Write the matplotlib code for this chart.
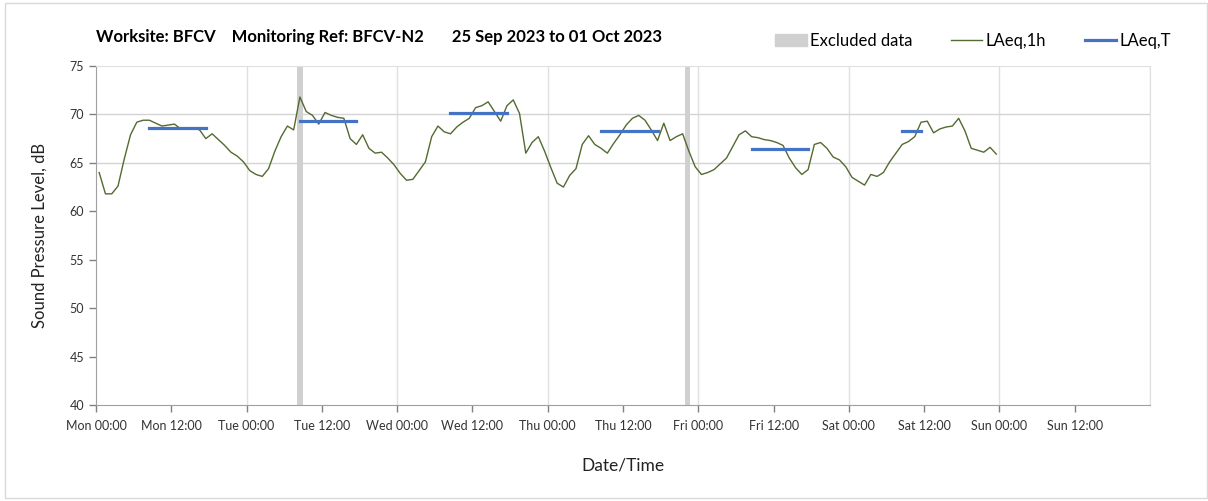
import numpy as np
import pandas as pd
import matplotlib
matplotlib.use("Agg")
import matplotlib.pyplot as plt
from matplotlib.patches import Patch
from matplotlib.lines import Line2D

plt.rcParams['font.family'] = ['Lato', 'DejaVu Sans']

# hourly LAeq,1h values, Mon 25 Sep 00:00 onwards (plotted at mid-hour)
laeq_1h = [
    64.0, 61.8, 61.8, 62.6, 65.4, 67.9, 69.2, 69.4, 69.4, 69.1, 68.8, 68.9,
    69.0, 68.5, 68.6, 68.6, 68.4, 67.5, 68.0, 67.4, 66.8, 66.1, 65.7, 65.1,
    64.2, 63.8, 63.6, 64.4, 66.2, 67.7, 68.8, 68.4, 71.8, 70.3, 69.9, 69.0,
    70.2, 69.9, 69.7, 69.6, 67.5, 66.9, 67.9, 66.5, 66.0, 66.1, 65.5, 64.8,
    63.9, 63.2, 63.3, 64.2, 65.1, 67.7, 68.8, 68.2, 68.0, 68.7, 69.2, 69.6,
    70.7, 70.9, 71.3, 70.3, 69.3, 70.9, 71.5, 70.1, 66.0, 67.1, 67.7, 66.2,
    64.5, 62.9, 62.5, 63.7, 64.4, 66.9, 67.8, 66.9, 66.5, 66.0, 67.0, 67.9,
    68.9, 69.6, 69.9, 69.4, 68.4, 67.3, 69.1, 67.3, 67.7, 68.0, 66.2, 64.6,
    63.8, 64.0, 64.3, 64.9, 65.5, 66.7, 67.9, 68.3, 67.7, 67.6, 67.4, 67.3,
    67.1, 66.8, 65.5, 64.5, 63.8, 64.3, 66.9, 67.1, 66.5, 65.6, 65.3, 64.6,
    63.5, 63.1, 62.7, 63.8, 63.6, 64.0, 65.1, 66.0, 66.9, 67.2, 67.7, 69.2,
    69.3, 68.1, 68.5, 68.7, 68.8, 69.6, 68.3, 66.5, 66.3, 66.1, 66.6, 65.9,
]
times = pd.date_range("2023-09-25 00:30", periods=len(laeq_1h), freq="h")

# LAeq,T daytime periods
t_start = ["2023-09-25 08:30", "2023-09-26 08:30", "2023-09-27 08:30",
           "2023-09-28 08:30", "2023-09-29 08:30", "2023-09-30 08:30"]
t_end = ["2023-09-25 17:30", "2023-09-26 17:30", "2023-09-27 17:30",
         "2023-09-28 17:30", "2023-09-29 17:30", "2023-09-30 11:30"]
laeq_t = [68.6, 69.35, 70.1, 68.25, 66.4, 68.25]

# excluded periods
excl_start = ["2023-09-26 08:00", "2023-09-28 21:50"]
excl_end = ["2023-09-26 08:55", "2023-09-28 22:45"]

x_start = pd.Timestamp("2023-09-25 00:00")
x_end = pd.Timestamp("2023-10-02 00:00")
tick_times = pd.date_range(x_start, periods=14, freq="12h")
tick_labels = [t.strftime("%a %H:%M") for t in tick_times]

fig = plt.figure(figsize=(12.08, 5.01), dpi=100)
ax = fig.add_axes([0.0795, 0.1916, 0.8725, 0.6767])

grid_c = "#e0e0e0"
for s, e in zip(excl_start, excl_end):
    ax.axvspan(pd.Timestamp(s), pd.Timestamp(e), color="#d0d0d0", lw=0, zorder=1)

for d in pd.date_range(x_start, x_end, freq="D")[1:]:
    ax.axvline(d, color=grid_c, lw=1, zorder=0)
for yv in [65, 70]:
    ax.axhline(yv, color="#d4d4d4", lw=1, zorder=0)

ax.plot(times, laeq_1h, color="#526b30", lw=1, zorder=3)
for s, e, v in zip(t_start, t_end, laeq_t):
    ax.plot([pd.Timestamp(s), pd.Timestamp(e)], [v, v], color="#4472c4",
            lw=2.3, solid_capstyle="projecting", zorder=4)

ax.set_xlim(x_start, x_end)
ax.set_ylim(40, 75)
ax.set_yticks(range(40, 76, 5))
ax.set_xticks(tick_times)
ax.set_xticklabels(tick_labels)
ax.tick_params(axis="both", labelsize=9, colors="#808080", labelcolor="#333333",
               length=5, width=1)
ax.tick_params(axis="x", pad=6)

for side in ["left", "bottom"]:
    ax.spines[side].set_color("#a0a0a0")
for side in ["top", "right"]:
    ax.spines[side].set_color(grid_c)

ax.set_ylabel("Sound Pressure Level, dB", fontsize=12, color="#222222", labelpad=16)
ax.set_xlabel("Date/Time", fontsize=12.5, color="#222222", labelpad=18)

fig.text(96 / 1208, 1 - 37 / 501,
         "Worksite: BFCV    Monitoring Ref: BFCV-N2       25 Sep 2023 to 01 Oct 2023",
         fontsize=12, fontweight="bold", va="center", ha="left")

handles = [Patch(color="#d0d0d0"),
           Line2D([], [], color="#526b30", lw=1),
           Line2D([], [], color="#4472c4", lw=2.3)]
fig.legend(handles, ["Excluded data", "LAeq,1h", "LAeq,T"], ncol=3, frameon=False,
           loc="center right", bbox_to_anchor=(1186 / 1208, 1 - 41 / 501),
           fontsize=12, handlelength=1.9, columnspacing=2.3, handletextpad=0.2)

fig.patches.append(plt.Rectangle((5 / 1208, 0.005), 1 - 6 / 1208, 0.99,
                                 transform=fig.transFigure, fill=False,
                                 edgecolor="#d9d9d9", lw=1))

fig.savefig("out.png", dpi=100)
